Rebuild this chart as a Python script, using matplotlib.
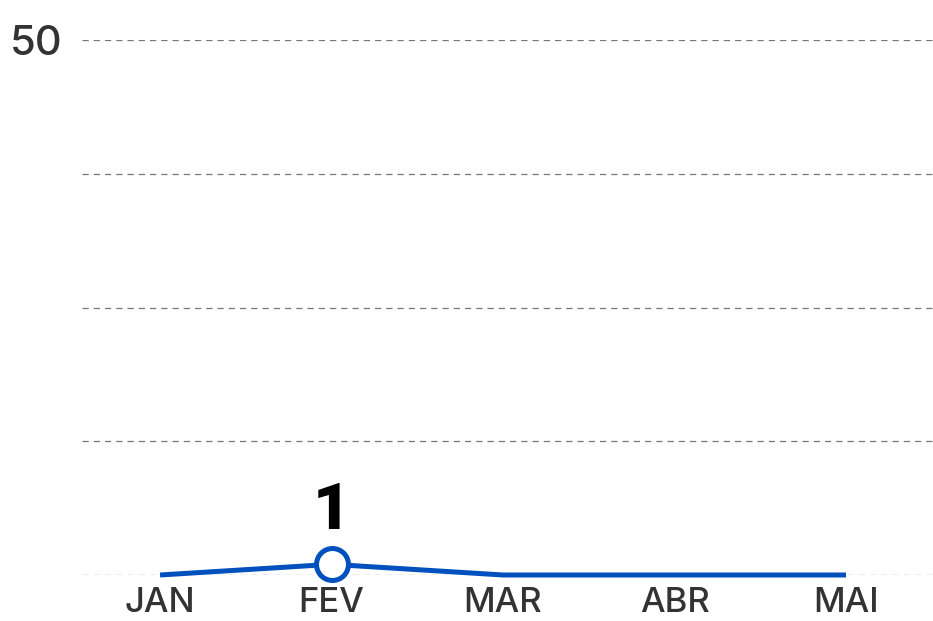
import matplotlib.pyplot as plt

months = ["JAN", "FEV", "MAR", "ABR", "MAI"]
values = [0, 1, 0, 0, 0]
y_ticks = [0, 12.5, 25, 37.5, 50]
y_tick_labels = ["", "", "", "", "50"]
highlight = 1  # FEV gets the marker and the label

plt.rcParams["font.family"] = ["Inter", "DejaVu Sans"]

W, H = 933, 621
fig = plt.figure(figsize=(W / 100, H / 100), dpi=100)
ax = fig.add_axes([82 / W, 1 - 575 / H, 1 - 82 / W, (575 - 40) / H])

xs = list(range(len(months)))
ax.plot(xs, values, color="#0050be", linewidth=3.6, solid_capstyle="butt",
        clip_on=False, zorder=3)
ax.plot(xs[highlight], values[highlight], "o", markersize=23,
        markerfacecolor="white", markeredgecolor="#0050be",
        markeredgewidth=3.6, clip_on=False, zorder=4)
ax.annotate(str(values[highlight]), (xs[highlight], values[highlight]),
            xytext=(0, 16), textcoords="offset points",
            ha="center", va="bottom", fontsize=47, fontweight="black",
            family=["Roboto", "DejaVu Sans"], color="black")

ax.set_xlim(-0.455, 4.507)
ax.set_ylim(0, 50)
ax.set_xticks(xs)
ax.set_xticklabels(months, fontsize=25, color="#333333", fontweight="medium")
ax.set_yticks(y_ticks)
ax.set_yticklabels(y_tick_labels, fontsize=30, color="#333333", fontweight="medium")
ax.tick_params(length=0)
ax.tick_params(axis="x", pad=9)
ax.tick_params(axis="y", pad=14)

ax.grid(axis="y", color="#777777", linestyle=(0, (5, 4)), linewidth=0.9)
ax.grid(axis="x", visible=False)
for s in ax.spines.values():
    s.set_visible(False)

fig.savefig("out.png", dpi=100)
